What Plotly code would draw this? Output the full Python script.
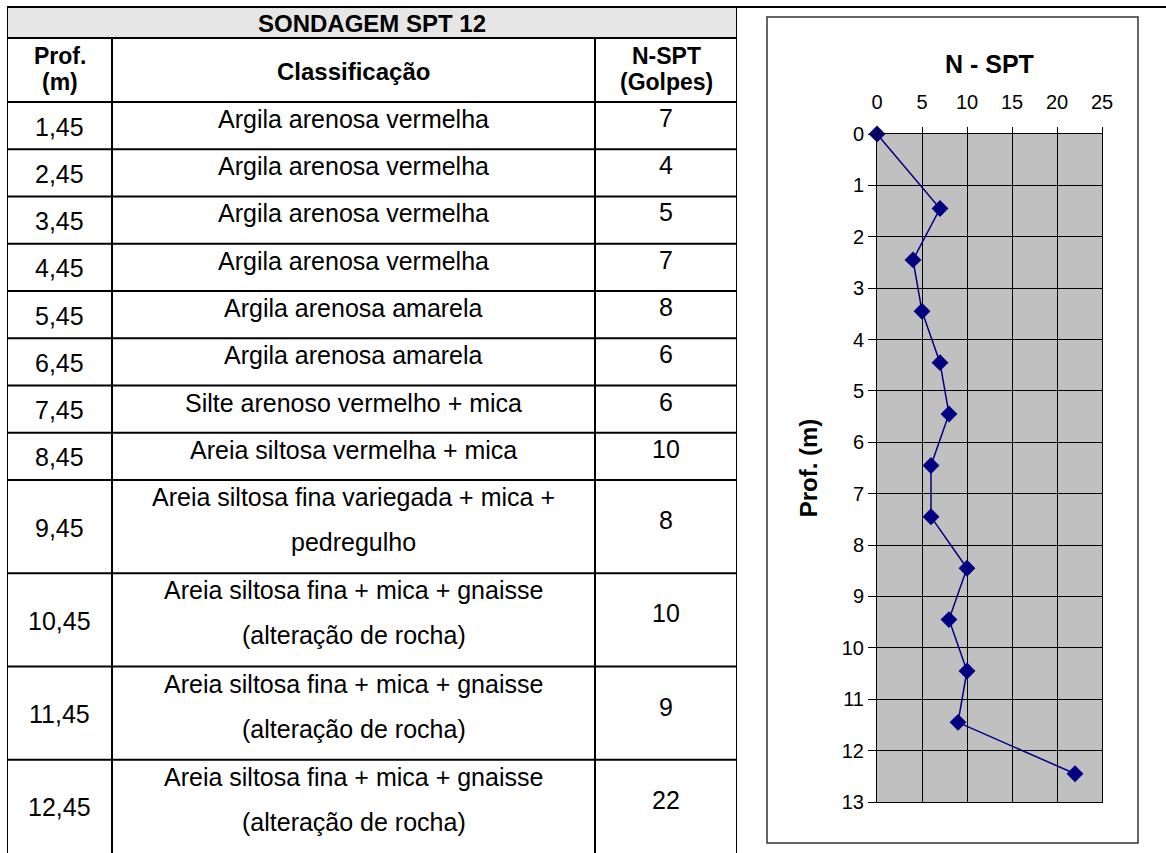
import plotly.graph_objects as go

# Tabela da sondagem
prof_m = [1.45, 2.45, 3.45, 4.45, 5.45, 6.45, 7.45, 8.45, 9.45, 10.45, 11.45, 12.45]
classificacao = [
    "Argila arenosa vermelha",
    "Argila arenosa vermelha",
    "Argila arenosa vermelha",
    "Argila arenosa vermelha",
    "Argila arenosa amarela",
    "Argila arenosa amarela",
    "Silte arenoso vermelho + mica",
    "Areia siltosa vermelha + mica",
    "Areia siltosa fina variegada + mica +\npedregulho",
    "Areia siltosa fina + mica + gnaisse\n(alteração de rocha)",
    "Areia siltosa fina + mica + gnaisse\n(alteração de rocha)",
    "Areia siltosa fina + mica + gnaisse\n(alteração de rocha)",
]
n_spt = [7, 4, 5, 7, 8, 6, 6, 10, 8, 10, 9, 22]

# ponto inicial do perfil (superficie)
surface_prof = 0
surface_n = 0

x_ticks = [0, 5, 10, 15, 20, 25]
y_ticks = list(range(0, 14))

W, H = 1166, 853
FONT = "Liberation Sans, Arial, sans-serif"


def px_x(v):
    return v / W


def px_y(v):
    return 1 - v / H


fig = go.Figure()

# perfil N-SPT
fig.add_trace(go.Scatter(
    x=[surface_n] + n_spt,
    y=[surface_prof] + prof_m,
    mode="lines+markers",
    line=dict(color="#000080", width=1.5),
    marker=dict(symbol="diamond", size=13, color="#000080"),
    cliponaxis=False,
    showlegend=False,
    hoverinfo="x+y",
    xaxis="x", yaxis="y",
))

# ---- tabela (eixo x2/y2 em pixels locais) ----
tab_w = 730
tab_h = 846
col_bounds = [0, 105, 588, tab_w]
head1_h = 31
head2_h = 64
single_h = 47.25
double_h = 93.25

shapes = []
annotations = []

# fundo cinza do cabecalho
shapes.append(dict(type="rect", xref="x2", yref="y2", x0=0, x1=tab_w, y0=0, y1=head1_h,
                   fillcolor="#e6e6e6", line=dict(width=0), layer="below"))

cell_font = dict(family=FONT, size=25, color="black")
head_font = dict(family=FONT, size=23, color="black")

annotations.append(dict(xref="x2", yref="y2", x=tab_w / 2, y=head1_h / 2 + 1,
                        text="<b>SONDAGEM SPT 12</b>", showarrow=False,
                        font=dict(family=FONT, size=24, color="black")))

cx = [(col_bounds[i] + col_bounds[i + 1]) / 2 for i in range(3)]
h2_top = head1_h
annotations += [
    dict(xref="x2", yref="y2", x=cx[0], y=h2_top + 18, text="<b>Prof.</b>", showarrow=False, font=head_font),
    dict(xref="x2", yref="y2", x=cx[0], y=h2_top + 44, text="<b>(m)</b>", showarrow=False, font=head_font),
    dict(xref="x2", yref="y2", x=cx[1], y=h2_top + 34, text="<b>Classificação</b>", showarrow=False,
         font=dict(family=FONT, size=24, color="black")),
    dict(xref="x2", yref="y2", x=cx[2], y=h2_top + 18, text="<b>N-SPT</b>", showarrow=False, font=head_font),
    dict(xref="x2", yref="y2", x=cx[2], y=h2_top + 44, text="<b>(Golpes)</b>", showarrow=False, font=head_font),
]

row_lines = [0, head1_h, head1_h + head2_h]
top = head1_h + head2_h
for p, c, n in zip(prof_m, classificacao, n_spt):
    lines = c.split("\n")
    h = single_h if len(lines) == 1 else double_h
    annotations.append(dict(xref="x2", yref="y2", x=cx[0], y=top + h / 2 + 1,
                            text=f"{p:.2f}".replace(".", ","), showarrow=False, font=cell_font))
    for k, ln in enumerate(lines):
        annotations.append(dict(xref="x2", yref="y2", x=cx[1], y=top + 17 + 45 * k,
                                text=ln, showarrow=False, font=cell_font))
    n_y = top + 16 if len(lines) == 1 else top + 40
    annotations.append(dict(xref="x2", yref="y2", x=cx[2], y=n_y,
                            text=str(n), showarrow=False, font=cell_font))
    top += h
    row_lines.append(top)

line_style = dict(color="black", width=2)
for yv in row_lines[:-1]:
    shapes.append(dict(type="line", xref="x2", yref="y2", x0=0, x1=tab_w, y0=yv, y1=yv, line=line_style))
for xv in (0, tab_w):
    shapes.append(dict(type="line", xref="x2", yref="y2", x0=xv, x1=xv, y0=0, y1=tab_h, line=line_style))
for xv in col_bounds[1:-1]:
    shapes.append(dict(type="line", xref="x2", yref="y2", x0=xv, x1=xv, y0=head1_h, y1=tab_h, line=line_style))

# linha superior estendida ate a borda direita
shapes.append(dict(type="line", xref="paper", yref="paper", x0=px_x(7), x1=1, y0=px_y(7), y1=px_y(7),
                   line=line_style))

# moldura do grafico
shapes.append(dict(type="rect", xref="paper", yref="paper", x0=px_x(767), x1=px_x(1138),
                   y0=px_y(843), y1=px_y(17), line=dict(color="#333333", width=1.5)))

# fundo cinza da area de plotagem
shapes.append(dict(type="rect", xref="x domain", yref="y domain", x0=0, x1=1, y0=0, y1=1,
                   fillcolor="#c0c0c0", line=dict(width=0), layer="below"))

annotations.append(dict(xref="paper", yref="paper", x=px_x(989), y=px_y(64),
                        xanchor="center", yanchor="middle",
                        text="<b>N - SPT</b>", showarrow=False,
                        font=dict(family=FONT, size=25, color="black")))

tick_font = dict(family=FONT, size=20, color="black")

fig.update_layout(
    width=W, height=H,
    autosize=False,
    margin=dict(l=0, r=0, t=0, b=0, pad=0, autoexpand=False),
    paper_bgcolor="white",
    plot_bgcolor="rgba(0,0,0,0)",
    font=dict(family=FONT, color="black"),
    shapes=shapes,
    annotations=annotations,
    xaxis=dict(
        domain=[px_x(877), px_x(1102)],
        range=[0, 25], side="top", anchor="y",
        tickvals=x_ticks, ticks="outside", ticklen=6, tickcolor="black",
        tickfont=tick_font, automargin=False, ticklabelstandoff=10,
        showgrid=True, gridcolor="black", gridwidth=1,
        showline=True, linecolor="black", linewidth=1, mirror=True,
        zeroline=False, fixedrange=True,
    ),
    yaxis=dict(
        domain=[px_y(802), px_y(134)],
        range=[13, 0], anchor="x",
        tickvals=y_ticks, ticks="outside", ticklen=8, tickcolor="black",
        tickfont=tick_font, automargin=False,
        showgrid=True, gridcolor="black", gridwidth=1,
        showline=True, linecolor="black", linewidth=1, mirror=True,
        zeroline=False, fixedrange=True,
        title=dict(text="<b>Prof. (m)</b>", font=dict(family=FONT, size=24, color="black"), standoff=17),
    ),
    xaxis2=dict(domain=[px_x(7), px_x(737)], range=[0, tab_w], anchor="y2", visible=False, fixedrange=True),
    yaxis2=dict(domain=[0, px_y(7)], range=[tab_h, 0], anchor="x2", visible=False, fixedrange=True),
)

fig.write_html("out.html", config={"displayModeBar": False},
               post_script="document.body.style.margin = '0';")
